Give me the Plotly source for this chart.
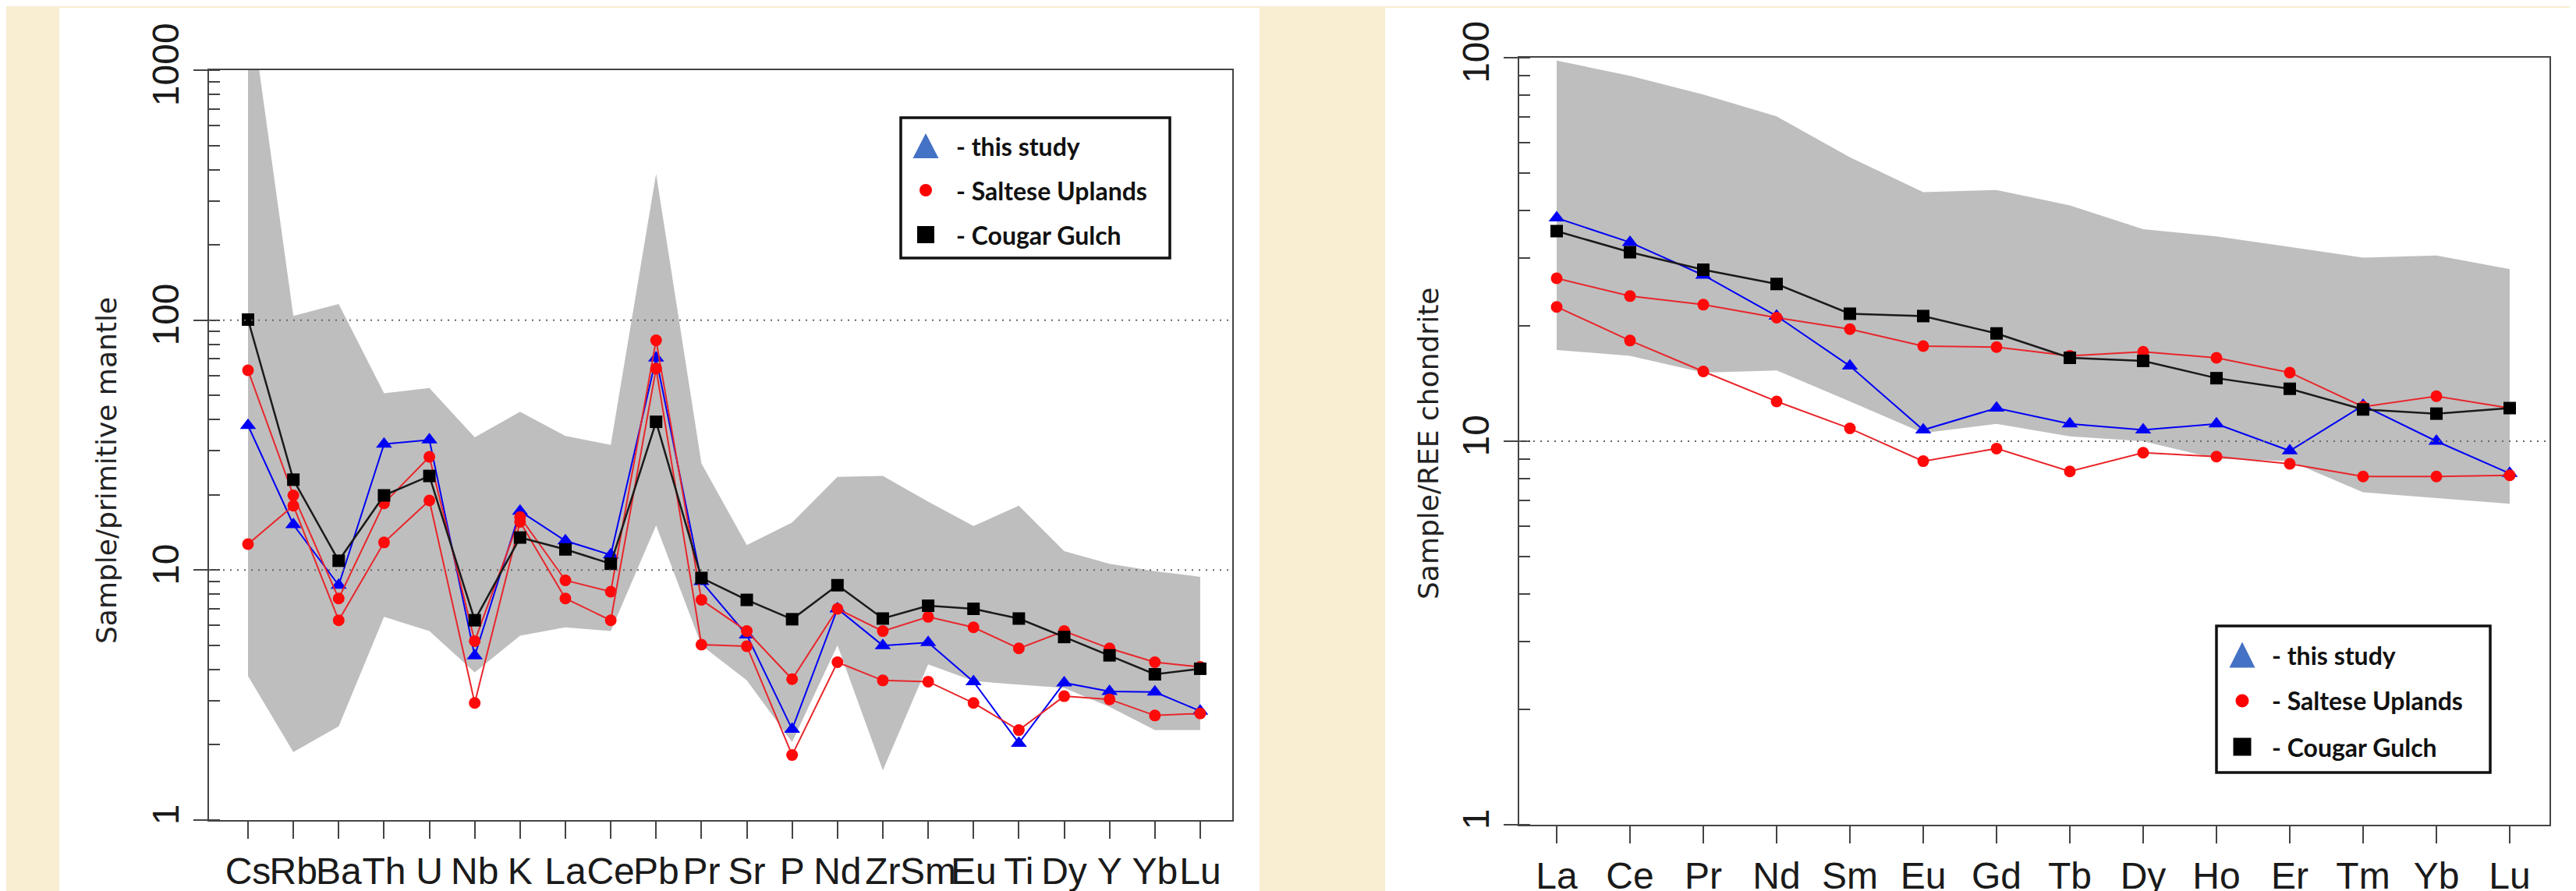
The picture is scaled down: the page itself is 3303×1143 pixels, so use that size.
import plotly.graph_objects as go

W, H = 3303, 1143

# ---------------- data: multi-element spider diagram (left) ----------------
spider_elements = ["Cs", "Rb", "Ba", "Th", "U", "Nb", "K", "La", "Ce", "Pb", "Pr",
                   "Sr", "P", "Nd", "Zr", "Sm", "Eu", "Ti", "Dy", "Y", "Yb", "Lu"]
spider_this_study = [37.9, 15.2, 8.7, 31.9, 33.2, 4.54, 17.2, 13.1, 11.5, 70.5, 9.0,
                     5.5, 2.31, 7.0, 4.99, 5.13, 3.58, 2.03, 3.54, 3.27, 3.25, 2.73]
spider_saltese_a = [63.0, 19.9, 7.7, 18.5, 28.4, 5.2, 16.3, 9.1, 8.2, 83.0, 7.6,
                    5.7, 3.66, 7.0, 5.7, 6.5, 5.9, 4.86, 5.7, 4.86, 4.28, 4.1]
spider_saltese_b = [12.7, 18.1, 6.3, 12.9, 19.0, 2.94, 15.6, 7.7, 6.3, 64.0, 5.03,
                    4.96, 1.82, 4.28, 3.62, 3.58, 2.94, 2.29, 3.13, 3.04, 2.62, 2.67]
spider_cougar = [100.5, 23.0, 10.9, 19.9, 23.8, 6.3, 13.5, 12.1, 10.6, 39.2, 9.3,
                 7.6, 6.36, 8.7, 6.4, 7.2, 7.0, 6.4, 5.4, 4.56, 3.83, 4.03]
spider_env_upper = [2100, 104, 116, 51, 53.5, 34, 43, 34.4, 31.7, 385, 26.7,
                    12.6, 15.5, 23.6, 23.8, 18.8, 15.0, 18.1, 11.9, 10.6, 9.9, 9.4]
spider_env_lower = [3.77, 1.87, 2.37, 6.5, 5.7, 3.9, 5.46, 5.9, 5.7, 15.1, 5.0,
                    3.62, 2.05, 5.0, 1.58, 4.2, 3.6, 3.48, 3.38, 2.84, 2.29, 2.29]

# ---------------- data: REE diagram (right) ----------------
ree_elements = ["La", "Ce", "Pr", "Nd", "Sm", "Eu", "Gd", "Tb", "Dy", "Ho", "Er", "Tm", "Yb", "Lu"]
ree_this_study = [38.2, 33.0, 27.1, 21.2, 15.7, 10.7, 12.2, 11.1, 10.7, 11.1, 9.44, 12.4, 10.0, 8.24]
ree_saltese_a = [26.6, 23.9, 22.7, 21.0, 19.6, 17.7, 17.6, 16.7, 17.1, 16.5, 15.1, 12.3, 13.1, 12.2]
ree_saltese_b = [22.4, 18.3, 15.2, 12.7, 10.8, 8.87, 9.57, 8.34, 9.33, 9.12, 8.73, 8.09, 8.09, 8.15]
ree_cougar = [35.3, 31.1, 28.0, 25.7, 21.5, 21.2, 19.1, 16.5, 16.2, 14.6, 13.7, 12.1, 11.8, 12.2]
ree_env_upper = [98.3, 89.7, 80.2, 70.3, 55.0, 44.6, 45.2, 41.2, 35.7, 34.2, 32.1, 30.1, 30.5, 28.1]
ree_env_lower = [17.3, 16.7, 15.1, 15.3, 12.7, 10.5, 11.1, 10.3, 10.0, 9.0, 8.87, 7.36, 7.1, 6.87]

left_ytick_vals = [1, 10, 100, 1000]
left_ytick_text = ["1", "10", "100", "1000"]
right_ytick_vals = [1, 10, 100]
right_ytick_text = ["1", "10", "100"]
legend_labels = ["- this study", "- Saltese Uplands", "- Cougar Gulch"]
left_title = "Sample/primitive mantle"
right_title = "Sample/REE chondrite"

# ---------------- styles ----------------
BG = "#F9EDD2"
GRAY = "#BEBEBE"
BLUE = "#0000F5"
RED = "#FF0A0A"
REDLINE = "#E8262B"
BLACK = "#000000"
AXC = "#444444"
TICKFONT = "Liberation Sans, Arial, sans-serif"
TITLEFONT = "DejaVu Sans, Verdana, sans-serif"
LEGFONT = "Lato, Liberation Sans, sans-serif"


def px(x):
    return x / W


def py(y):
    return 1 - y / H


fig = go.Figure()


def add_panel(elements, upper, lower, blue, red_a, red_b, black, xa, ya):
    fig.add_trace(go.Scatter(
        x=elements + elements[::-1], y=upper + lower[::-1],
        fill="toself", fillcolor=GRAY, mode="lines", line=dict(width=0, color=GRAY),
        hoverinfo="skip", showlegend=False, xaxis=xa, yaxis=ya))
    fig.add_trace(go.Scatter(
        x=elements, y=blue, mode="lines+markers", showlegend=False,
        line=dict(color=BLUE, width=2),
        marker=dict(symbol="triangle-up", size=18, color=BLUE),
        xaxis=xa, yaxis=ya))
    for r in (red_a, red_b):
        fig.add_trace(go.Scatter(
            x=elements, y=r, mode="lines+markers", showlegend=False,
            line=dict(color=REDLINE, width=2),
            marker=dict(symbol="circle", size=15, color=RED),
            xaxis=xa, yaxis=ya))
    fig.add_trace(go.Scatter(
        x=elements, y=black, mode="lines+markers", showlegend=False,
        line=dict(color="#1a1a1a", width=2.5),
        marker=dict(symbol="square", size=16, color=BLACK),
        xaxis=xa, yaxis=ya))


add_panel(spider_elements, spider_env_upper, spider_env_lower, spider_this_study,
          spider_saltese_a, spider_saltese_b, spider_cougar, "x", "y")
add_panel(ree_elements, ree_env_upper, ree_env_lower, ree_this_study,
          ree_saltese_a, ree_saltese_b, ree_cougar, "x2", "y2")

common_x = dict(type="category", showgrid=False, showline=True, mirror=True,
                linecolor=AXC, linewidth=2, ticks="outside", ticklen=22, tickwidth=2,
                tickcolor=AXC, tickangle=0, tickmode="linear", dtick=1, tick0=0,
                tickfont=dict(family=TICKFONT, size=48, color="#1a1a1a"),
                zeroline=False, fixedrange=True, automargin=False)
common_y = dict(type="log", showgrid=False, showline=True, mirror=True,
                linecolor=AXC, linewidth=2, ticks="outside", ticklen=18, tickwidth=2,
                tickcolor=AXC, tickangle=-90,
                tickfont=dict(family=TICKFONT, size=48, color="#1a1a1a"),
                minor=dict(ticks="inside", ticklen=14, tickwidth=2, tickcolor=AXC,
                           dtick="D1", showgrid=False),
                zeroline=False, fixedrange=True, automargin=False)

fig.update_layout(
    width=W, height=H,
    margin=dict(l=0, r=0, t=0, b=0, autoexpand=False),
    paper_bgcolor=BG, plot_bgcolor="rgba(0,0,0,0)",
    xaxis=dict(common_x, domain=[px(260), px(1572)],
               range=[(260 - 310) / 58.14, (1572 - 310) / 58.14],
               categoryorder="array", categoryarray=spider_elements, anchor="y"),
    yaxis=dict(common_y, domain=[py(1044), py(82)], range=[0, 3],
               tickmode="array", tickvals=left_ytick_vals, ticktext=left_ytick_text,
               anchor="x"),
    xaxis2=dict(common_x, domain=[px(1940), px(3261)],
                range=[(1940 - 1988) / 94.0, (3261 - 1988) / 94.0],
                categoryorder="array", categoryarray=ree_elements, anchor="y2"),
    yaxis2=dict(common_y, domain=[py(1050), py(66)], range=[0, 2],
                tickmode="array", tickvals=right_ytick_vals, ticktext=right_ytick_text,
                anchor="x2"),
)

shapes = []
# white panels
shapes.append(dict(type="rect", xref="paper", yref="paper", x0=px(68), x1=px(1607),
                   y0=0, y1=py(2), fillcolor="white", line=dict(width=0), layer="below"))
shapes.append(dict(type="rect", xref="paper", yref="paper", x0=px(1768), x1=1,
                   y0=0, y1=py(2), fillcolor="white", line=dict(width=0), layer="below"))
# dotted reference lines (drawn over the envelope)
for yv in (10, 100):
    shapes.append(dict(type="line", xref="x domain", yref="y", x0=0, x1=1, y0=yv, y1=yv,
                       line=dict(color="#666666", width=2, dash="2px,7px"), layer="above"))
shapes.append(dict(type="line", xref="x2 domain", yref="y2", x0=0, x1=1, y0=10, y1=10,
                   line=dict(color="#666666", width=2, dash="2px,7px"), layer="above"))

annotations = []
annotations.append(dict(text=left_title, xref="paper", yref="paper", x=px(128), y=py(596),
                        xanchor="center", yanchor="middle",
                        textangle=-90, showarrow=False,
                        font=dict(family=TITLEFONT, size=36, color="#222222")))
annotations.append(dict(text=right_title, xref="paper", yref="paper", x=px(1823), y=py(561),
                        xanchor="center", yanchor="middle",
                        textangle=-90, showarrow=False,
                        font=dict(family=TITLEFONT, size=36, color="#222222")))


def add_legend(box, mx, rows, tx, tri, circ_d, sq):
    x0, y0, x1, y1 = box
    shapes.append(dict(type="rect", xref="paper", yref="paper", x0=px(x0), x1=px(x1),
                       y0=py(y1), y1=py(y0), fillcolor="white",
                       line=dict(color="#111111", width=3.5), layer="above"))
    tw, th = tri
    cy = rows[0]
    shapes.append(dict(type="path", xref="paper", yref="paper",
                       path=f"M {px(mx - tw / 2)},{py(cy + th / 2)} L {px(mx + tw / 2)},{py(cy + th / 2)} "
                            f"L {px(mx)},{py(cy - th / 2)} Z",
                       fillcolor="#4472C4", line=dict(width=0), layer="above"))
    cy = rows[1]
    shapes.append(dict(type="circle", xref="paper", yref="paper",
                       x0=px(mx - circ_d / 2), x1=px(mx + circ_d / 2),
                       y0=py(cy + circ_d / 2), y1=py(cy - circ_d / 2),
                       fillcolor="#FF0000", line=dict(width=0), layer="above"))
    cy = rows[2]
    shapes.append(dict(type="rect", xref="paper", yref="paper",
                       x0=px(mx - sq / 2), x1=px(mx + sq / 2),
                       y0=py(cy + sq / 2), y1=py(cy - sq / 2),
                       fillcolor="#000000", line=dict(width=0), layer="above"))
    for lab, ry in zip(legend_labels, rows):
        annotations.append(dict(text=f"<b>{lab}</b>", xref="paper", yref="paper",
                                x=px(tx), y=py(ry), xanchor="left", yanchor="middle",
                                showarrow=False,
                                font=dict(family=LEGFONT, size=32, color="#111111")))


add_legend((1147, 143, 1492, 323), 1179, (179, 236, 293), 1216, (33, 32), 16, 22)
add_legend((2834, 795, 3185, 983), 2867, (832, 891, 950), 2903, (33, 33), 17, 23)

fig.update_layout(shapes=shapes, annotations=annotations)

fig.write_html("out.html")
